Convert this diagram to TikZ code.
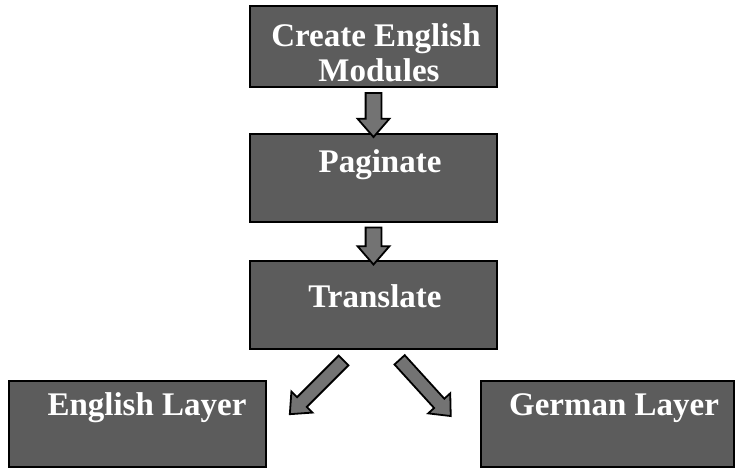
\documentclass[tikz,border=0pt]{standalone}
\usepackage{fontspec}
\setmainfont{Liberation Serif}
\usetikzlibrary{shapes.arrows,calc}
\begin{document}
\begin{tikzpicture}[x=1pt,y=-1pt,
  stepbox/.style={draw=black,line width=2.5pt,fill=black!64,inner sep=0pt},
  steptext/.style={text=white,font=\fontsize{33}{35}\selectfont\bfseries,anchor=base,inner sep=0pt},
  blockarrow/.style={single arrow,draw=black,line width=1.8pt,fill=black!55,
    inner xsep=0pt,inner ysep=7pt,single arrow head extend=8pt,single arrow tip angle=82,
    minimum height=#1,minimum width=0pt},
  blockarrow/.default=40pt]
\useasboundingbox (0,0) rectangle (736,470);
\node[stepbox,minimum width=247pt,minimum height=81pt] (create) at (373.5,46.5) {};
\node[stepbox,minimum width=247pt,minimum height=88pt] (pag) at (373.5,178) {};
\node[stepbox,minimum width=247pt,minimum height=88pt] (trans) at (373.5,305) {};
\node[stepbox,minimum width=257pt,minimum height=86pt] (eng) at (137.5,424) {};
\node[stepbox,minimum width=253pt,minimum height=86pt] (ger) at (607.5,424) {};
\node[steptext] (t1) at (376,47) {Create English};
\node[steptext] (t1b) at (379,82) {Modules};
\node[steptext] (t2) at (380,173) {Paginate};
\node[steptext] (t3) at (375,307) {Translate};
\node[steptext] (t4) at (147,415) {English Layer};
\node[steptext] (t5) at (614,415) {German Layer};
\node[blockarrow=44pt,rotate=-90] (a1) at ($(create.south)!0.5!(pag.north)$) {};
\node[blockarrow=37pt,rotate=-90] (a2) at ($(pag.south)!0.5!(trans.north)$) {};
\coordinate (l1) at (347,357);
\coordinate (l2) at (292,412);
\coordinate (r1) at (397,357);
\coordinate (r2) at (448,413);
\node[blockarrow=76pt,rotate=-135,inner ysep=6pt] (al) at ($(l1)!0.5!(l2)$) {};
\node[blockarrow=76pt,rotate=-47.7,inner ysep=6pt] (ar) at ($(r1)!0.5!(r2)$) {};
\end{tikzpicture}
\end{document}
